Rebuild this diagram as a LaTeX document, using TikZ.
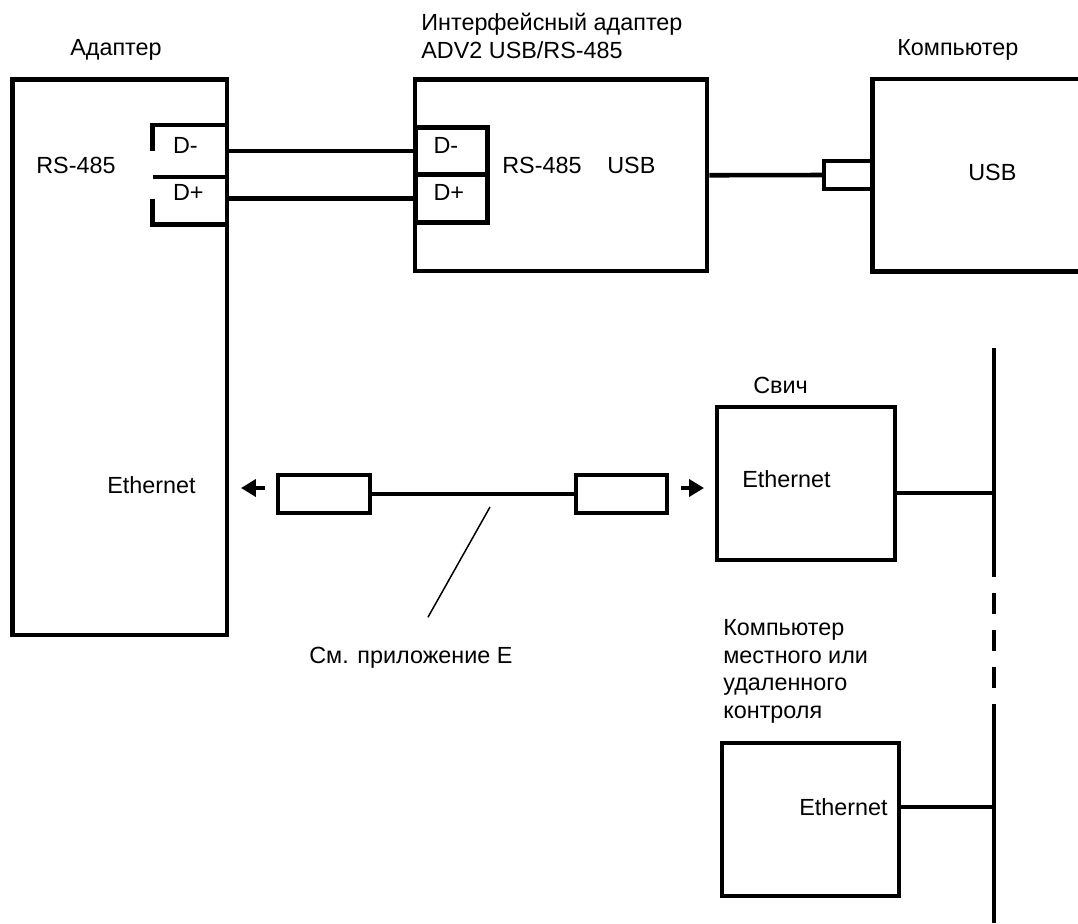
\documentclass[tikz,border=0pt]{standalone}
\usepackage{fontspec}
\setmainfont{Liberation Sans}
\usetikzlibrary{positioning,arrows.meta}
\newcommand{\diagfont}{\fontsize{13.3pt}{15.6pt}\selectfont}

\begin{document}
\begin{tikzpicture}[every node/.style={font=\diagfont},
    block/.style={draw, rectangle, line width=2.6pt, inner sep=0pt},
    terminal/.style={rectangle, line width=2.6pt, minimum width=1.44cm, minimum height=0.95cm, inner ysep=0pt, inner xsep=0.36cm, text width=0.72cm, align=left, text height=9.5pt, text depth=6.8pt},
    plug/.style={draw, rectangle, line width=2.3pt, minimum height=0.76cm, inner sep=0pt},
    wire/.style={line width=2.6pt},
    bus/.style={line width=2.6pt},
    arr/.style={line width=2.3pt, -{Triangle[length=0.3cm,width=0.34cm]}},
    txt/.style={inner sep=0pt, anchor=base west}]
    \useasboundingbox (0,0) rectangle (21.56,-18.46);

    % Adapter
    \node[block, minimum width=4.29cm, minimum height=11.11cm] (adapter) at (2.395,-7.145) {};
    \node[txt] at (1.40,-1.10) {Адаптер};
    \node[txt] at (0.72,-3.46) {RS-485};
    \node[txt] at (2.14,-9.86) {Ethernet};
    \node[terminal] (lminus) at (3.82,-3.02) {D-};
    \node[terminal] (lplus) at (3.82,-3.97) {D+};
    \draw[wire] (lminus.north east) -- (lminus.north west) -- (lminus.west);
    \draw[wire] (lminus.south west) -- (lminus.south east);
    \draw[wire] (lplus.west) -- (lplus.south west) -- (lplus.south east);

    % Interface adapter
    \node[block, minimum width=5.84cm, minimum height=3.83cm] (iface) at (11.22,-3.505) {};
    \node[txt, align=left] at (8.42,-1.16) {Интерфейсный адаптер\\ADV2 USB/RS-485};
    \node[terminal, draw] (iminus) at (9.03,-3.02) {D-};
    \node[terminal, draw] (iplus) at (9.03,-3.97) {D+};
    \node[txt] at (10.04,-3.46) {RS-485};
    \node[txt] at (12.14,-3.46) {USB};

    % Computer
    \node[minimum width=4.10cm, minimum height=3.83cm, inner sep=0pt] (pc) at (19.51,-3.505) {};
    \draw[wire] (pc.north east) -- (pc.north west) -- (pc.south west) -- (pc.south east);
    \node[txt] at (17.94,-1.10) {Компьютер};
    \node[txt] at (19.36,-3.60) {USB};
    \node[plug, minimum width=0.98cm, minimum height=0.56cm] (usbplug) at (16.97,-3.5) {};

    % Ethernet cable
    \node[plug, minimum width=1.84cm] (lplug) at (6.48,-9.88) {};
    \node[plug, minimum width=1.82cm] (rplug) at (12.43,-9.88) {};
    \node[txt] (note) at (6.18,-13.26) {См. приложение Е};
    \coordinate (ptr) at (9.8,-10.14);

    % Switch
    \node[block, minimum width=3.56cm, minimum height=3.06cm] (sw) at (16.12,-9.67) {};
    \node[txt] at (15.06,-7.86) {Свич};
    \node[txt] at (14.84,-9.74) {Ethernet};

    % Local or remote computer
    \node[block, minimum width=3.54cm, minimum height=3.06cm] (pc2) at (16.21,-16.39) {};
    \node[txt, align=left] at (14.46,-14.36) {Компьютер\\местного или\\удаленного\\контроля};
    \node[txt, anchor=base east] at (17.76,-16.30) {Ethernet};

    % Bus
    \coordinate (bustop) at (19.88,-6.96);
    \coordinate (busbot) at (19.88,-18.46);
    \draw[bus] (bustop) -- (19.88,-11.12);
    \draw[bus, dash pattern=on 11.9pt off 9.1pt] (19.88,-11.12) -- (19.88,-14.10);
    \draw[bus] (19.88,-14.10) -- (busbot);
    \coordinate (swport) at ([yshift=-0.19cm]sw.east);
    \coordinate (pc2port) at ([yshift=0.25cm]pc2.east);

    % Connections
    \draw[wire] (lminus.east) -- (iminus.west);
    \draw[wire] (lplus.east) -- (iplus.west);
    \draw[wire] (iface.east) -- (usbplug.west);
    \draw[wire] (lplug.east) -- (rplug.west);
    \draw[arr] ([xshift=-0.22cm,yshift=0.12cm]lplug.west) -- ++(-0.48,0);
    \draw[arr] ([xshift=0.24cm,yshift=0.12cm]rplug.east) -- ++(0.46,0);
    \draw[line width=0.85pt] (ptr) -- ([xshift=0.34cm,yshift=0.58cm]note.north);
    \draw[wire] (swport) -- (swport -| bustop);
    \draw[wire] (pc2port) -- (pc2port -| bustop);
\end{tikzpicture}
\end{document}
